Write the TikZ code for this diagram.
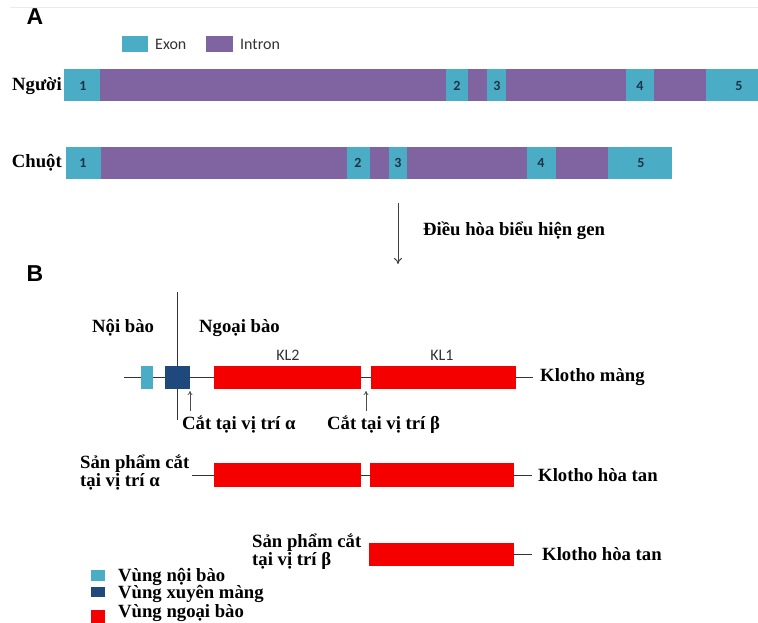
\documentclass[tikz,border=0pt]{standalone}
\usepackage{fontspec}
\setmainfont{Liberation Serif}
\newfontfamily\calib{Carlito}
\newfontfamily\arialf{Liberation Sans}
\usetikzlibrary{arrows.meta}
\definecolor{exonc}{HTML}{4BACC6}
\definecolor{intronc}{HTML}{8064A2}
\definecolor{numc}{HTML}{1E3345}
\definecolor{tmc}{HTML}{1F497D}
\definecolor{redc}{HTML}{F50000}
\definecolor{linec}{HTML}{333333}
\tikzset{
  exon/.style={fill=exonc, draw=none},
  intron/.style={fill=intronc, draw=none},
  num/.style={font=\calib\fontsize{14}{14}\selectfont\bfseries, text=numc, inner sep=0pt},
  lbl/.style={font=\bfseries\fontsize{18.7}{18}\selectfont, inner sep=0pt},
  sans/.style={font=\calib\fontsize{16}{16}\selectfont, inner sep=0pt, text=black!80},
  panel/.style={font=\arialf\bfseries\fontsize{23}{23}\selectfont, inner sep=0pt},
  redbox/.style={fill=redc, draw=none},
  thin/.style={draw=linec, line width=0.9pt},
  cutarrow/.style={draw=black!70, line width=0.7pt, -{To[length=4pt,width=5pt]}},
}
\begin{document}
\begin{tikzpicture}[x=1pt,y=-1pt]
\useasboundingbox (0,0) rectangle (758,622);
\fill[white] (0,0) rectangle (758,622);
\draw[black!8, line width=0.8pt] (10,7) -- (758,7);

% ---------- Panel A ----------
\node[panel] (A) at (35,17) {A};
\fill[exon] (122,36) rectangle (148,52);
\node[sans, anchor=west] (exonl) at (155,44) {Exon};
\fill[intron] (206,36) rectangle (233,52);
\node[sans, anchor=west] (intronl) at (240,44) {Intron};

% Human
\node[lbl, anchor=east] (nguoi) at (62,86) {Người};
\fill[exon] (64,69) rectangle (100,101);
\fill[intron] (100,69) rectangle (446,101);
\fill[exon] (446,69) rectangle (468,101);
\fill[intron] (468,69) rectangle (487,101);
\fill[exon] (487,69) rectangle (506,101);
\fill[intron] (506,69) rectangle (626,101);
\fill[exon] (626,69) rectangle (654,101);
\fill[intron] (654,69) rectangle (706,101);
\fill[exon] (706,69) rectangle (758,101);
\node[num] (h1) at (83,86) {1};
\node[num] (h2) at (457,86) {2};
\node[num] (h3) at (497,86) {3};
\node[num] (h4) at (640,86) {4};
\node[num] (h5) at (739,86) {5};

% Mouse
\node[lbl, anchor=east] (chuot) at (62,163) {Chuột};
\fill[exon] (66,147) rectangle (101,179);
\fill[intron] (101,147) rectangle (347,179);
\fill[exon] (347,147) rectangle (370,179);
\fill[intron] (370,147) rectangle (389,179);
\fill[exon] (389,147) rectangle (407,179);
\fill[intron] (407,147) rectangle (527,179);
\fill[exon] (527,147) rectangle (556,179);
\fill[intron] (556,147) rectangle (608,179);
\fill[exon] (608,147) rectangle (672,179);
\node[num] (m1) at (83,163) {1};
\node[num] (m2) at (358,163) {2};
\node[num] (m3) at (398,163) {3};
\node[num] (m4) at (541,163) {4};
\node[num] (m5) at (641,163) {5};

% Regulation arrow
\coordinate (rtop) at (398,203);
\coordinate (rbot) at (398,264);
\draw[draw=black!75, line width=1pt, -{To[length=6pt,width=8pt]}] (rtop) -- (rbot);
\node[lbl, anchor=west] (dieuhoa) at (423,231) {Điều hòa biểu hiện gen};

% ---------- Panel B ----------
\node[panel] (B) at (35,274) {B};
\coordinate (memtop) at (177,292);
\coordinate (membot) at (177,420);
\draw[thin] (memtop) -- (membot);
\node[lbl, anchor=west] (noibao) at (92,328) {Nội bào};
\node[lbl, anchor=west] (ngoaibao) at (199,328) {Ngoại bào};
\node[sans] (kl2) at (288,355) {KL2};
\node[sans] (kl1) at (442,355) {KL1};

% Membrane klotho
\coordinate (l1s) at (124,377);
\coordinate (l1e) at (533,377);
\draw[thin] (l1s) -- (l1e);
\fill[exonc] (141,366) rectangle (153,389);
\fill[tmc] (165,366) rectangle (190,389);
\fill[redbox] (214,366) rectangle (361,389);
\fill[redbox] (371,366) rectangle (516,389);
\node[lbl, anchor=west] (kmang) at (540,377) {Klotho màng};

\coordinate (a1) at (190,411);
\coordinate (a2) at (190,391);
\draw[cutarrow] (a1) -- (a2);
\coordinate (b1) at (366,411);
\coordinate (b2) at (366,391);
\draw[cutarrow] (b1) -- (b2);
\node[lbl, anchor=west] (cata) at (182,425) {Cắt tại vị trí α};
\node[lbl, anchor=west] (catb) at (327,425) {Cắt tại vị trí β};

% Alpha product
\coordinate (l2s) at (192,475);
\coordinate (l2e) at (532,475);
\draw[thin] (l2s) -- (l2e);
\fill[redbox] (214,463) rectangle (361,487);
\fill[redbox] (370,463) rectangle (514,487);
\node[lbl, anchor=west] (spa1) at (80,464) {Sản phẩm cắt};
\node[lbl, anchor=west] (spa2) at (80,482) {tại vị trí α};
\node[lbl, anchor=west] (kht1) at (538,475) {Klotho hòa tan};

% Beta product
\coordinate (l3s) at (500,554);
\coordinate (l3e) at (532,554);
\draw[thin] (l3s) -- (l3e);
\fill[redbox] (369,543) rectangle (514,566);
\node[lbl, anchor=west] (spb1) at (252,543) {Sản phẩm cắt};
\node[lbl, anchor=west] (spb2) at (252,561) {tại vị trí β};
\node[lbl, anchor=west] (kht2) at (542,554) {Klotho hòa tan};

% Legend B
\fill[exonc] (91,570) rectangle (105,581);
\fill[tmc] (91,587) rectangle (105,597);
\fill[redc] (91,610) rectangle (105,630);
\node[lbl, anchor=west] (lg1) at (118,577) {Vùng nội bào};
\node[lbl, anchor=west] (lg2) at (118,594) {Vùng xuyên màng};
\node[lbl, anchor=west] (lg3) at (118,613) {Vùng ngoại bào};
\end{tikzpicture}
\end{document}
